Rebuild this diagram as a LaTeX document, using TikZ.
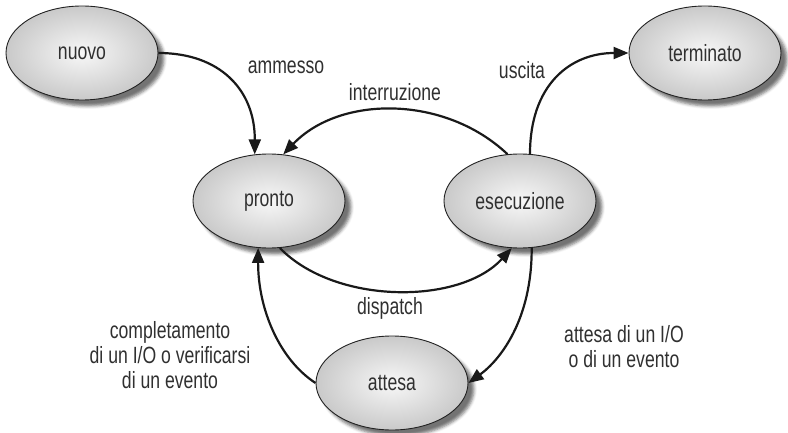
\documentclass[tikz,border=0pt]{standalone}
\usepackage{fontspec}
\setmainfont[FakeStretch=0.75]{Liberation Sans}
\usetikzlibrary{shapes.geometric,arrows.meta,shadows.blur}
\definecolor{txt}{HTML}{303030}
\definecolor{edge}{HTML}{222222}
\begin{document}
\begin{tikzpicture}[x=1pt,y=-1pt,
  state/.style={ellipse, draw=edge, line width=0.9pt, inner color=gray!6, outer color=gray!42,
    minimum width=152pt, minimum height=94pt, inner sep=0pt,
    font=\fontsize{23.5}{25}\selectfont, text=txt,
    blur shadow={shadow xshift=6pt, shadow yshift=-6pt, shadow blur radius=3pt, shadow opacity=55}},
  conn/.style={line width=2.2pt, draw=black!90, -{Triangle[length=15pt,width=12pt]}},
  lbl/.style={font=\fontsize{23.5}{25}\selectfont, text=txt, align=center, inner sep=0pt}]
\useasboundingbox (0,0) rectangle (788,433);
\node[state] (nuovo) at (82,53) {nuovo};
\node[state] (terminato) at (705,53) {terminato};
\node[state] (pronto) at (269,201) {pronto};
\node[state] (esecuzione) at (520,201) {esecuzione};
\node[state] (attesa) at (392,383) {attesa};
\draw[conn] (nuovo.east) .. controls (220,53) and (255,90) .. (pronto.107);
\draw[conn] (esecuzione.105) .. controls (445,95) and (340,95) .. (pronto.73);
\draw[conn] (esecuzione.78) .. controls (530,85) and (570,53) .. (terminato.west);
\draw[conn] (pronto.-77) .. controls (335,305) and (460,305) .. (esecuzione.-100);
\draw[conn] (esecuzione.-76) .. controls (532,320) and (500,360) .. (attesa.east);
\draw[conn] (attesa.west) .. controls (280,360) and (258,310) .. (pronto.-103);
\node[lbl] (lammesso) at (286,67) {ammesso};
\node[lbl] (linterr) at (395,92) {interruzione};
\node[lbl] (luscita) at (522,70) {uscita};
\node[lbl] (ldispatch) at (390,308) {dispatch};
\node[lbl] (lcompl) at (170,355) {completamento\\di un I/O o verificarsi\\di un evento};
\node[lbl] (lattesa) at (624,347) {attesa di un I/O\\o di un evento};
\end{tikzpicture}
\end{document}
